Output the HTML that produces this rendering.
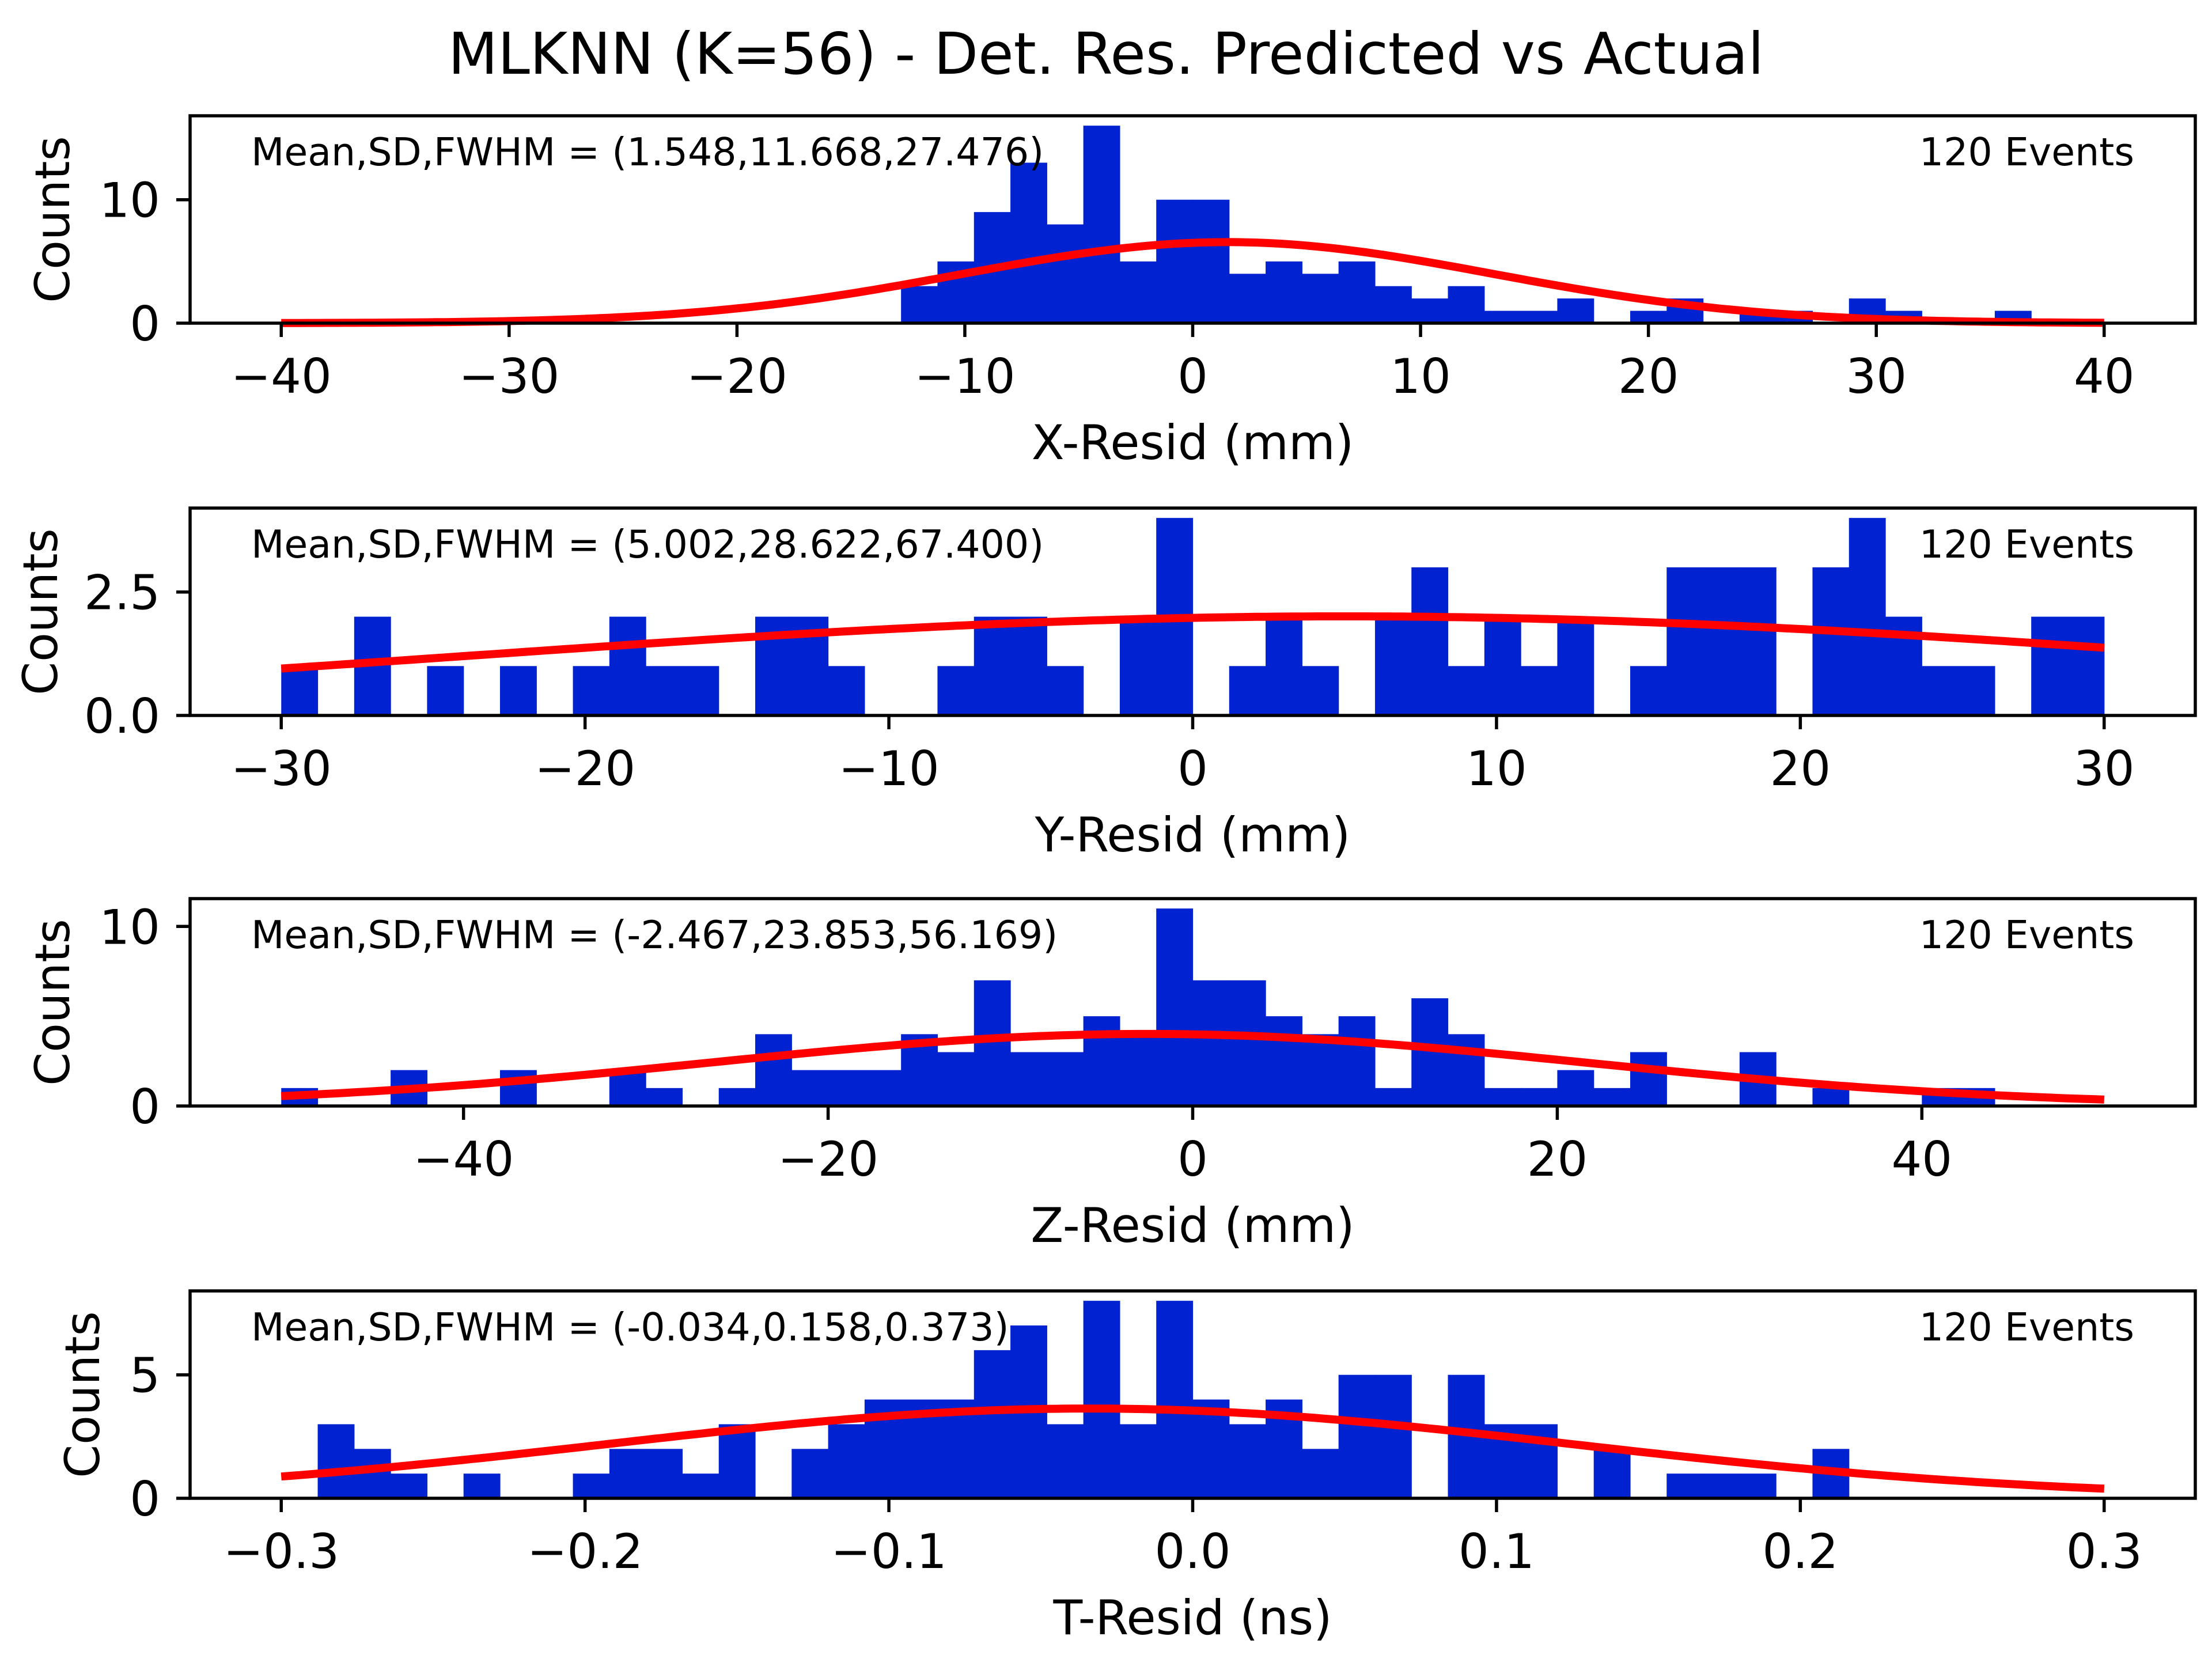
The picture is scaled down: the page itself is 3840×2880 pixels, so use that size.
<!DOCTYPE html>
<html><head><meta charset="utf-8"><style>
html,body{margin:0;padding:0;background:#fff;}
svg{display:block;font-family:"DejaVu Sans","Liberation Sans",sans-serif;}
</style></head><body>
<svg id="fig" width="3840" height="2880" viewBox="0 0 3840 2880" xmlns="http://www.w3.org/2000/svg">
<rect width="3840" height="2880" fill="#fff"/>
<text x="1920" y="128" font-size="100" text-anchor="middle">MLKNN (K=56) - Det. Res. Predicted vs Actual</text>
</svg>
<script>
// ---- data ----
const xCounts = [0,0,0,0,0,0,0,0,0,0,0,0,0,0,0,0,0,3,5,9,13,8,16,5,10,10,4,5,4,5,3,2,3,1,1,2,0,1,2,0,1,1,0,2,1,0,0,1,0,0];
const yCounts = [1,0,2,0,1,0,1,0,1,2,1,1,0,2,2,1,0,0,1,2,2,1,0,2,4,0,1,2,1,0,2,3,1,2,1,2,0,1,3,3,3,0,3,4,2,1,1,0,2,2];
const zCounts = [1,0,0,2,0,0,2,0,0,2,1,0,1,4,2,2,2,4,3,7,3,3,5,4,11,7,7,5,4,5,1,6,4,1,1,2,1,3,0,0,3,0,1,0,0,1,1,0,0,0];
const tCounts = [0,3,2,1,0,1,0,0,1,2,2,1,3,0,2,3,4,4,4,6,7,3,8,3,8,4,3,4,2,5,5,0,5,3,3,0,2,0,1,1,1,0,2,0,0,0,0,0,0,0];
const histRanges = [[-40,40],[-30,30],[-50,50],[-0.3,0.3]];
const fitMeans = [1.548,5.002,-2.467,-0.034];
const fitSDs = [11.668,28.622,23.853,0.158];
const fitFWHMs = ["27.476","67.400","56.169","0.373"];
const eventCounts = [120,120,120,120];
const xLimits = [[-44,44],[-33,33],[-55,55],[-0.33,0.33]];
const yLimits = [16.8,4.2,11.55,8.4];
const xTickVals = [[-40,-30,-20,-10,0,10,20,30,40],[-30,-20,-10,0,10,20,30],[-40,-20,0,20,40],[-0.3,-0.2,-0.1,0,0.1,0.2,0.3]];
const xTickLabels = [["−40","−30","−20","−10","0","10","20","30","40"],["−30","−20","−10","0","10","20","30"],["−40","−20","0","20","40"],["−0.3","−0.2","−0.1","0.0","0.1","0.2","0.3"]];
const yTickVals = [[0,10],[0,2.5],[0,10],[0,5]];
const yTickLabels = [["0","10"],["0.0","2.5"],["0","10"],["0","5"]];
const xTitles = ["X-Resid (mm)","Y-Resid (mm)","Z-Resid (mm)","T-Resid (ns)"];
const meanLabels = ["(1.548,11.668,27.476)","(5.002,28.622,67.400)","(-2.467,23.853,56.169)","(-0.034,0.158,0.373)"];
const countsList = [xCounts,yCounts,zCounts,tCounts];
const panelNames = ["x-resid","y-resid","z-resid","t-resid"];
const ylabelX = [90,69,90,142];

const NS = "http://www.w3.org/2000/svg";
const svg = document.getElementById('fig');
function mk(tag, attrs, parent){const e=document.createElementNS(NS,tag);for(const k in attrs)e.setAttribute(k,attrs[k]);(parent||svg).appendChild(e);return e;}

const L=330,R=3811,H=360;
const tops=[201,882,1560,2241];
for(let p=0;p<4;p++){
  const top=tops[p], bot=top+H;
  const g=mk('g',{});
  
  
  const [x0,x1]=xLimits[p];
  const sx=v=>L+(v-x0)/(x1-x0)*(R-L);
  const sy=v=>bot-v/yLimits[p]*H;
  const counts=countsList[p];
  const [lo,hi]=histRanges[p];
  const bw=(hi-lo)/counts.length;
  for(let i=0;i<counts.length;i++){
    if(!counts[i]) continue;
    const xa=sx(lo+i*bw), xb=sx(lo+(i+1)*bw);
    const r=mk('rect',{x:xa,y:sy(counts[i]),width:xb-xa+0.6,height:bot-sy(counts[i]),fill:'#0022d0'},g);
    
    
  }
  const N=eventCounts[p], mu=fitMeans[p], sd=fitSDs[p];
  const amp=N*bw/(sd*Math.sqrt(2*Math.PI));
  let d='';
  for(let k=0;k<=200;k++){
    const v=lo+(hi-lo)*k/200;
    const c=amp*Math.exp(-0.5*((v-mu)/sd)**2);
    d+=(k?'L':'M')+sx(v).toFixed(1)+' '+sy(c).toFixed(1);
  }
  const fit=mk('path',{d:d,fill:'none',stroke:'#ff0000','stroke-width':14},g);
  
  
  const fr=mk('rect',{x:L,y:top,width:R-L,height:H,fill:'none',stroke:'#000','stroke-width':5.5},g);
  
  
  xTickVals[p].forEach((v,i)=>{
    const x=sx(v);
    mk('line',{x1:x,x2:x,y1:bot,y2:bot+24,stroke:'#000','stroke-width':5.5},g);
    const t=mk('text',{x:x,y:bot+121,'font-size':83,'text-anchor':'middle'},g);
    t.textContent=xTickLabels[p][i];
    
    
  });
  yTickVals[p].forEach((v,i)=>{
    const y=sy(v);
    mk('line',{x1:L-24,x2:L,y1:y,y2:y,stroke:'#000','stroke-width':5.5},g);
    const t=mk('text',{x:278,y:y+30,'font-size':83,'text-anchor':'end'},g);
    t.textContent=yTickLabels[p][i];
    
    
  });
  const xt=mk('text',{x:(L+R)/2,y:bot+236,'font-size':83,'text-anchor':'middle'},g);
  xt.textContent=xTitles[p];
  
  
  const cy=top+H/2;
  const yt=mk('text',{x:ylabelX[p]+30,y:cy,'font-size':83,'text-anchor':'middle',transform:`rotate(-90 ${ylabelX[p]+30} ${cy})`},g);
  yt.textContent='Counts';
  
  
  const st=mk('text',{x:436,y:top+86,'font-size':66.5},g);
  st.textContent='Mean,SD,FWHM = '+meanLabels[p];
  
  
  const ev=mk('text',{x:3705,y:top+86,'font-size':66.5,'text-anchor':'end'},g);
  ev.textContent=eventCounts[p]+' Events';
  
  
}
</script>
</body></html>
